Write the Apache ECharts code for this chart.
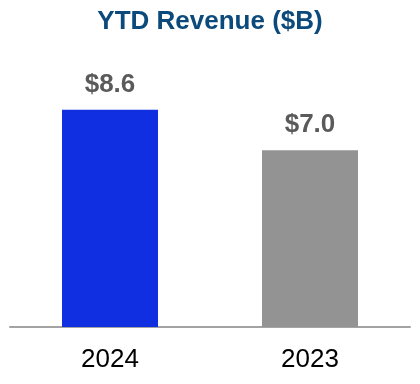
<!DOCTYPE html>
<html>
<head>
<meta charset="utf-8">
<script src="https://cdn.jsdelivr.net/npm/echarts@6/dist/echarts.min.js"></script>
<style>html,body{margin:0;padding:0;background:#fff;}#c{width:420px;height:384px;}</style>
</head>
<body>
<div id="c"></div>
<script>
const categories = ['2024', '2023'];
const revenue = [8.6, 7.0];
const barColors = ['#102fe0', '#939393'];
const titleText = 'YTD Revenue ($B)';

const chart = echarts.init(document.getElementById('c'), null, {renderer: 'canvas'});
chart.setOption({
  animation: false,
  backgroundColor: '#ffffff',
  title: {
    text: titleText,
    left: 'center',
    top: 4,
    textStyle: {fontFamily: 'Liberation Sans, Arial', fontWeight: 'bold', fontSize: 26, color: '#0c4a7b'}
  },
  grid: {left: 10, right: 10, top: 74.5, height: 252.5, containLabel: false},
  xAxis: {
    type: 'category',
    data: categories,
    axisLine: {show: true, lineStyle: {color: '#a3a3a3', width: 2}},
    axisTick: {show: false},
    axisLabel: {fontFamily: 'Liberation Sans, Arial', fontSize: 26, color: '#000', margin: 20}
  },
  yAxis: {
    type: 'value', min: 0, max: 10,
    show: false, splitLine: {show: false}
  },
  series: [{
    type: 'bar',
    data: revenue.map((v, i) => ({value: v, itemStyle: {color: barColors[i]}})),
    barWidth: '48%',
    label: {
      show: true, position: 'top', distance: 12,
      formatter: p => '$' + p.value.toFixed(1),
      fontFamily: 'Liberation Sans, Arial', fontWeight: 'bold', fontSize: 26, color: '#5a5a5a'
    }
  }]
});
</script>
</body>
</html>
